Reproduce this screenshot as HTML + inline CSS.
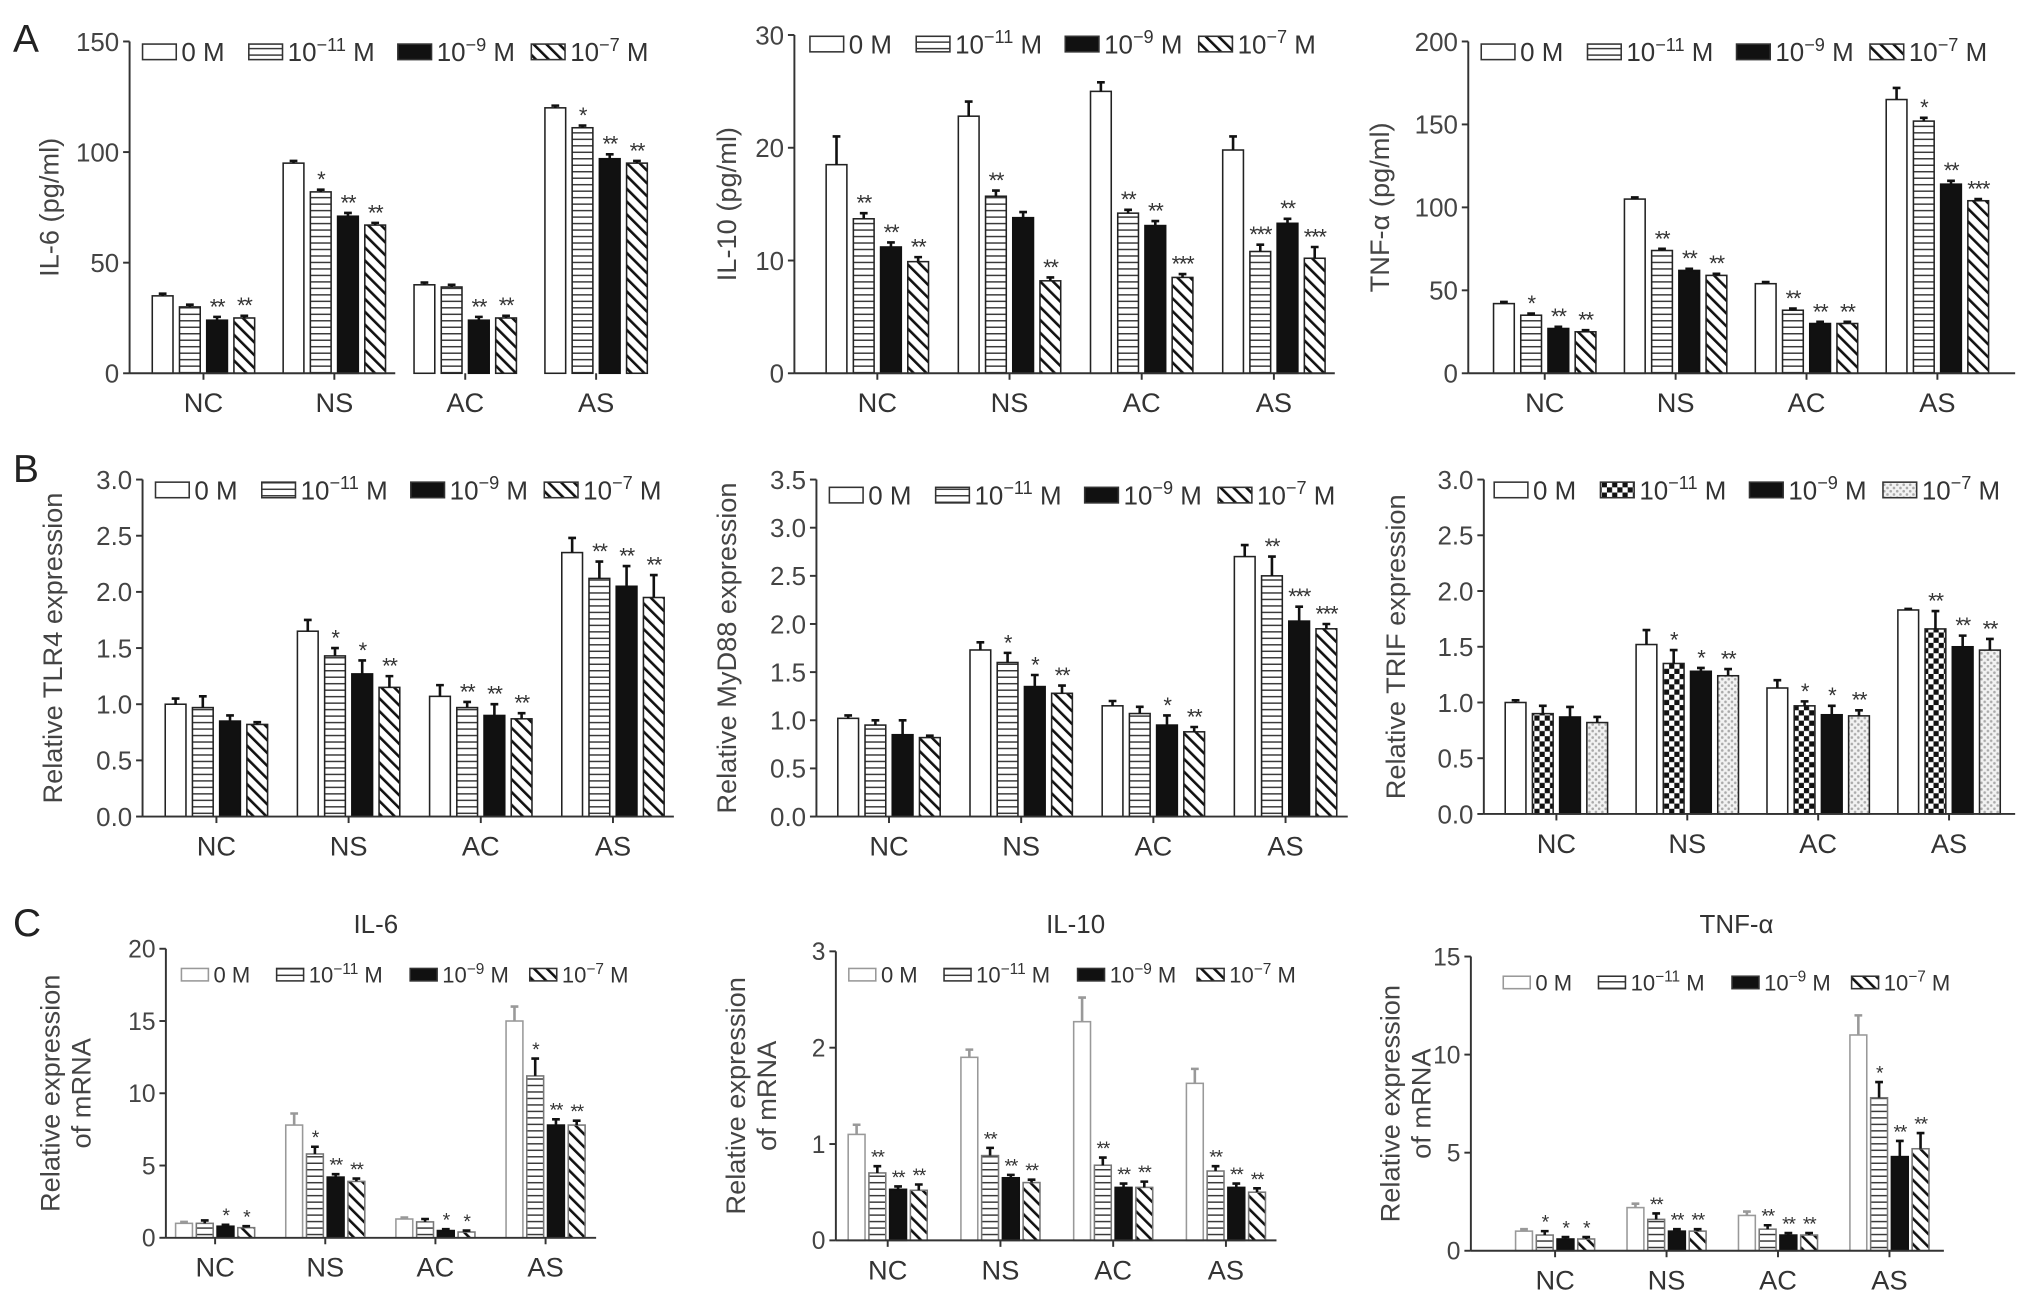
<!DOCTYPE html>
<html><head><meta charset="utf-8"><style>
html,body{margin:0;padding:0;background:#fff;}
svg{display:block;font-family:"Liberation Sans",sans-serif;}
</style></head><body>
<svg id="fig" width="2032" height="1300" viewBox="0 0 1568 1003" preserveAspectRatio="none" xmlns="http://www.w3.org/2000/svg">
<defs>
<pattern id="p-h" patternUnits="userSpaceOnUse" width="6" height="5"><rect width="6" height="5" fill="#fff"/><line x1="0" y1="2.5" x2="6" y2="2.5" stroke="#333" stroke-width="1.1"/></pattern>
<pattern id="p-d" patternUnits="userSpaceOnUse" width="7" height="7" patternTransform="rotate(-45)"><rect width="7" height="7" fill="#fff"/><line x1="0" y1="0" x2="0" y2="7" stroke="#111" stroke-width="4"/></pattern>
<pattern id="p-c" patternUnits="userSpaceOnUse" width="8" height="8"><rect width="8" height="8" fill="#fff"/><rect width="4" height="4" fill="#111"/><rect x="4" y="4" width="4" height="4" fill="#111"/></pattern>
<pattern id="p-s" patternUnits="userSpaceOnUse" width="5" height="5"><rect width="5" height="5" fill="#f2f2f2"/><circle cx="1.5" cy="1.5" r="1" fill="#aaa"/><circle cx="4" cy="4" r="1" fill="#aaa"/></pattern>
</defs>
<g id="root"></g>
</svg>
<script>
const categories=["NC","NS","AC","AS"];
const seriesLabels=["0 M","10","10","10"];
const seriesExp=["","−11","−9","−7"];
// Panel A1 IL-6 protein
const a1Vals=[[35,30,24,25],[95,82,71,67],[40,39,24,25],[120,111,97,95]];
const a1Err=[[1,1,1.5,1],[1,1,1.5,1],[1,1,1.5,1],[1,1,2,1]];
const a1Stars=[["","","**","**"],["","*","**","**"],["","","**","**"],["","*","**","**"]];
const a1Ticks=[0,50,100,150];
// Panel A2 IL-10 protein
const a2Vals=[[18.5,13.7,11.2,9.9],[22.8,15.7,13.8,8.2],[25,14.2,13.1,8.5],[19.8,10.8,13.3,10.2]];
const a2Err=[[2.5,0.5,0.4,0.4],[1.3,0.5,0.5,0.3],[0.8,0.3,0.4,0.3],[1.2,0.6,0.4,1]];
const a2Stars=[["","**","**","**"],["","**","","**"],["","**","**","***"],["","***","**","***"]];
const a2Ticks=[0,10,20,30];
// Panel A3 TNF-a protein
const a3Vals=[[42,35,27,25],[105,74,62,59],[54,38,30,30],[165,152,114,104]];
const a3Err=[[1,1,1,1],[1,1,1,1],[1,1,1,1],[7,2,2,1]];
const a3Stars=[["","*","**","**"],["","**","**","**"],["","**","**","**"],["","*","**","***"]];
const a3Ticks=[0,50,100,150,200];
// Panel B1 TLR4
const b1Vals=[[1.0,0.97,0.85,0.82],[1.65,1.43,1.27,1.15],[1.07,0.97,0.9,0.87],[2.35,2.12,2.05,1.95]];
const b1Err=[[0.05,0.1,0.05,0.02],[0.1,0.07,0.12,0.1],[0.1,0.05,0.1,0.05],[0.13,0.15,0.18,0.2]];
const b1Stars=[["","","",""],["","*","*","**"],["","**","**","**"],["","**","**","**"]];
const b1Ticks=[0,0.5,1,1.5,2,2.5,3];
// Panel B2 MyD88
const b2Vals=[[1.02,0.95,0.85,0.82],[1.73,1.6,1.35,1.28],[1.15,1.07,0.95,0.88],[2.7,2.5,2.03,1.95]];
const b2Err=[[0.03,0.05,0.15,0.02],[0.08,0.1,0.12,0.08],[0.05,0.07,0.1,0.05],[0.12,0.2,0.15,0.05]];
const b2Stars=[["","","",""],["","*","*","**"],["","","*","**"],["","**","***","***"]];
const b2Ticks=[0,0.5,1,1.5,2,2.5,3,3.5];
// Panel B3 TRIF
const b3Vals=[[1.0,0.9,0.87,0.82],[1.52,1.35,1.28,1.24],[1.13,0.97,0.89,0.88],[1.83,1.66,1.5,1.47]];
const b3Err=[[0.02,0.07,0.09,0.05],[0.13,0.12,0.03,0.06],[0.07,0.04,0.08,0.05],[0.01,0.16,0.1,0.1]];
const b3Stars=[["","","",""],["","*","*","**"],["","*","*","**"],["","**","**","**"]];
const b3Ticks=[0,0.5,1,1.5,2,2.5,3];
// Panel C1 IL-6 mRNA
const c1Vals=[[1.0,1.0,0.8,0.7],[7.8,5.8,4.2,3.9],[1.3,1.1,0.5,0.4],[15,11.2,7.8,7.8]];
const c1Err=[[0.1,0.2,0.1,0.1],[0.8,0.5,0.2,0.2],[0.1,0.2,0.1,0.1],[1,1.2,0.4,0.3]];
const c1Stars=[["","","*","*"],["","*","**","**"],["","","*","*"],["","*","**","**"]];
const c1Ticks=[0,5,10,15,20];
// Panel C2 IL-10 mRNA
const c2Vals=[[1.1,0.7,0.53,0.52],[1.9,0.88,0.65,0.6],[2.27,0.78,0.55,0.55],[1.63,0.72,0.55,0.5]];
const c2Err=[[0.1,0.07,0.03,0.06],[0.08,0.08,0.03,0.03],[0.25,0.08,0.04,0.06],[0.15,0.05,0.04,0.04]];
const c2Stars=[["","**","**","**"],["","**","**","**"],["","**","**","**"],["","**","**","**"]];
const c2Ticks=[0,1,2,3];
// Panel C3 TNF-a mRNA
const c3Vals=[[1.0,0.8,0.6,0.6],[2.2,1.6,1.0,1.0],[1.8,1.1,0.8,0.8],[11,7.8,4.8,5.2]];
const c3Err=[[0.1,0.2,0.1,0.1],[0.2,0.3,0.1,0.1],[0.2,0.2,0.1,0.1],[1,0.8,0.8,0.8]];
const c3Stars=[["","*","*","*"],["","**","**","**"],["","**","**","**"],["","*","**","**"]];
const c3Ticks=[0,5,10,15];

const fillsStd=["#fff","url(#p-h)","#111","url(#p-d)"];
const fillsB3=["#fff","url(#p-c)","#111","url(#p-s)"];

const panels=[
 {id:"a1",ax:100,top:32,bot:288,right:305,c0:157,sp:101,bw:16,pitch:21,vals:a1Vals,err:a1Err,stars:a1Stars,ticks:a1Ticks,dec:0,ylab:["IL-6 (pg/ml)"],ylx:45,lx:110,ly:40,fs:20,yfs:21,fills:fillsStd,sc:1},
 {id:"a2",ax:613,top:27,bot:288,right:1030,c0:677,sp:102,bw:16,pitch:21,vals:a2Vals,err:a2Err,stars:a2Stars,ticks:a2Ticks,dec:0,ylab:["IL-10 (pg/ml)"],ylx:568,lx:625,ly:34,fs:20,yfs:21,fills:fillsStd,sc:1},
 {id:"a3",ax:1133,top:32,bot:288,right:1555,c0:1192,sp:101,bw:16,pitch:21,vals:a3Vals,err:a3Err,stars:a3Stars,ticks:a3Ticks,dec:0,ylab:["TNF-α (pg/ml)"],ylx:1072,lx:1143,ly:40,fs:20,yfs:21,fills:fillsStd,sc:1},
 {id:"b1",ax:110,top:370,bot:630,right:520,c0:167,sp:102,bw:16,pitch:21,vals:b1Vals,err:b1Err,stars:b1Stars,ticks:b1Ticks,dec:1,ylab:["Relative TLR4 expression"],ylx:48,lx:120,ly:378,fs:20,yfs:21,fills:fillsStd,sc:1},
 {id:"b2",ax:630,top:370,bot:630,right:1040,c0:686,sp:102,bw:16,pitch:21,vals:b2Vals,err:b2Err,stars:b2Stars,ticks:b2Ticks,dec:1,ylab:["Relative MyD88 expression"],ylx:568,lx:640,ly:382,fs:20,yfs:21,fills:fillsStd,sc:1},
 {id:"b3",ax:1145,top:370,bot:628,right:1555,c0:1201,sp:101,bw:16,pitch:21,vals:b3Vals,err:b3Err,stars:b3Stars,ticks:b3Ticks,dec:1,ylab:["Relative TRIF expression"],ylx:1084,lx:1153,ly:378,fs:20,yfs:21,fills:fillsB3,sc:1},
 {id:"c1",ax:128,top:732,bot:955,right:460,c0:166,sp:85,bw:13,pitch:16,vals:c1Vals,err:c1Err,stars:c1Stars,ticks:c1Ticks,dec:0,ylab:["Relative expression","of mRNA"],ylx:46,lx:140,ly:752,fs:19,yfs:21,fills:fillsStd,sc:0.8,title:"IL-6",tx:290},
 {id:"c2",ax:645,top:734,bot:957,right:985,c0:685,sp:87,bw:13,pitch:16,vals:c2Vals,err:c2Err,stars:c2Stars,ticks:c2Ticks,dec:0,ylab:["Relative expression","of mRNA"],ylx:575,lx:655,ly:752,fs:19,yfs:21,fills:fillsStd,sc:0.8,title:"IL-10",tx:830},
 {id:"c3",ax:1135,top:738,bot:965,right:1500,c0:1200,sp:86,bw:13,pitch:16,vals:c3Vals,err:c3Err,stars:c3Stars,ticks:c3Ticks,dec:0,ylab:["Relative expression","of mRNA"],ylx:1080,lx:1160,ly:758,fs:19,yfs:21,fills:fillsStd,sc:0.8,title:"TNF-α",tx:1340}
];

const NS="http://www.w3.org/2000/svg";
const root=document.getElementById("root");
function mk(tag,attrs,parent){const e=document.createElementNS(NS,tag);for(const k in attrs)e.setAttribute(k,attrs[k]);(parent||root).appendChild(e);return e;}

[["A",10,40],["B",10,372],["C",10,722]].forEach(function(p){
 const t=mk("text",{x:p[1],y:p[2],"font-size":30,fill:"#222"});t.textContent=p[0];
 
 
});

panels.forEach(function(P){
 const g=mk("g",{});
 
 
 const maxV=P.ticks[P.ticks.length-1];
 const y=function(v){return P.bot-(v/maxV)*(P.bot-P.top);};
 const xc=function(ci,si){return P.c0+ci*P.sp+(si-1.5)*P.pitch;};
 const light=P.id[0]==="c";
 const edge=light?"#777":"#222";
 P.vals.forEach(function(row,ci){row.forEach(function(v,si){
  const x=xc(ci,si)-P.bw/2, top=y(v), e=P.err[ci][si], et=y(v+e);
  const r=mk("rect",{x:x,y:top,width:P.bw,height:P.bot-top,fill:P.fills[si],stroke:si===2?"#111":(light&&si===0?"#999":edge),"stroke-width":1.2},g);
  
  
  const eb=mk("path",{d:"M"+xc(ci,si)+" "+top+"V"+et+"M"+(xc(ci,si)-3)+" "+et+"H"+(xc(ci,si)+3),stroke:light&&si===0?"#999":"#111","stroke-width":2,fill:"none"},g);
  
  
  const s=P.stars[ci][si];
  if(s){const st=mk("text",{x:xc(ci,si),y:et-2,"font-size":light?15:17,"text-anchor":"middle",fill:"#333","letter-spacing":"-1"},g);st.textContent=s;
   
   }
 });});
 const ya=mk("line",{x1:P.ax,y1:P.top,x2:P.ax,y2:P.bot,stroke:"#333","stroke-width":1.5},g);
 
 
 const xa=mk("line",{x1:P.ax,y1:P.bot,x2:P.right,y2:P.bot,stroke:"#333","stroke-width":1.5},g);
 
 
 P.ticks.forEach(function(t){
  mk("line",{x1:P.ax-5,y1:y(t),x2:P.ax,y2:y(t),stroke:"#333","stroke-width":1.5},g);
  const tl=mk("text",{x:P.ax-8,y:y(t)+P.fs*0.36,"font-size":P.fs,"text-anchor":"end",fill:"#444"},g);
  tl.textContent=t.toFixed(P.dec);
  
  
 });
 categories.forEach(function(c,ci){
  const cx=P.c0+ci*P.sp;
  mk("line",{x1:cx,y1:P.bot,x2:cx,y2:P.bot+5,stroke:"#333","stroke-width":1.5},g);
  const cl=mk("text",{x:cx,y:P.bot+30,"font-size":21,"text-anchor":"middle",fill:"#333"},g);
  cl.textContent=c;
  
  
 });
 const midY=(P.top+P.bot)/2;
 P.ylab.forEach(function(l,i){
  const yl=mk("text",{x:P.ylx+i*24,y:midY,"font-size":P.yfs,"text-anchor":"middle",fill:"#444",transform:"rotate(-90 "+(P.ylx+i*24)+" "+midY+")"},g);
  yl.textContent=l;
  
  
 });
 if(P.title){const tt=mk("text",{x:P.tx,y:720,"font-size":20,"text-anchor":"middle",fill:"#333"},g);tt.textContent=P.title;
  
  }
 const offs=[0,82,197,300];
 const bwid=26*P.sc, bh=12*P.sc;
 const lfs=light?17:20;
 offs.forEach(function(o,si){
  const lx=P.lx+o*P.sc*(light?1.12:1);
  const lg=mk("g",{},g);
  
  
  mk("rect",{x:lx,y:P.ly-bh/2,width:bwid,height:bh,fill:P.fills[si],stroke:light&&si===0?"#999":"#333","stroke-width":1.2},lg);
  const t=mk("text",{x:lx+bwid+4,y:P.ly+lfs*0.36,"font-size":lfs,fill:"#333"},lg);
  t.textContent=seriesLabels[si];
  if(seriesExp[si]){const ts=mk("tspan",{dy:-lfs*0.4,"font-size":lfs*0.7},t);ts.textContent=seriesExp[si];
   const tm=mk("tspan",{dy:lfs*0.4,"font-size":lfs},t);tm.textContent=" M";}
 });
});
</script>
</body></html>
